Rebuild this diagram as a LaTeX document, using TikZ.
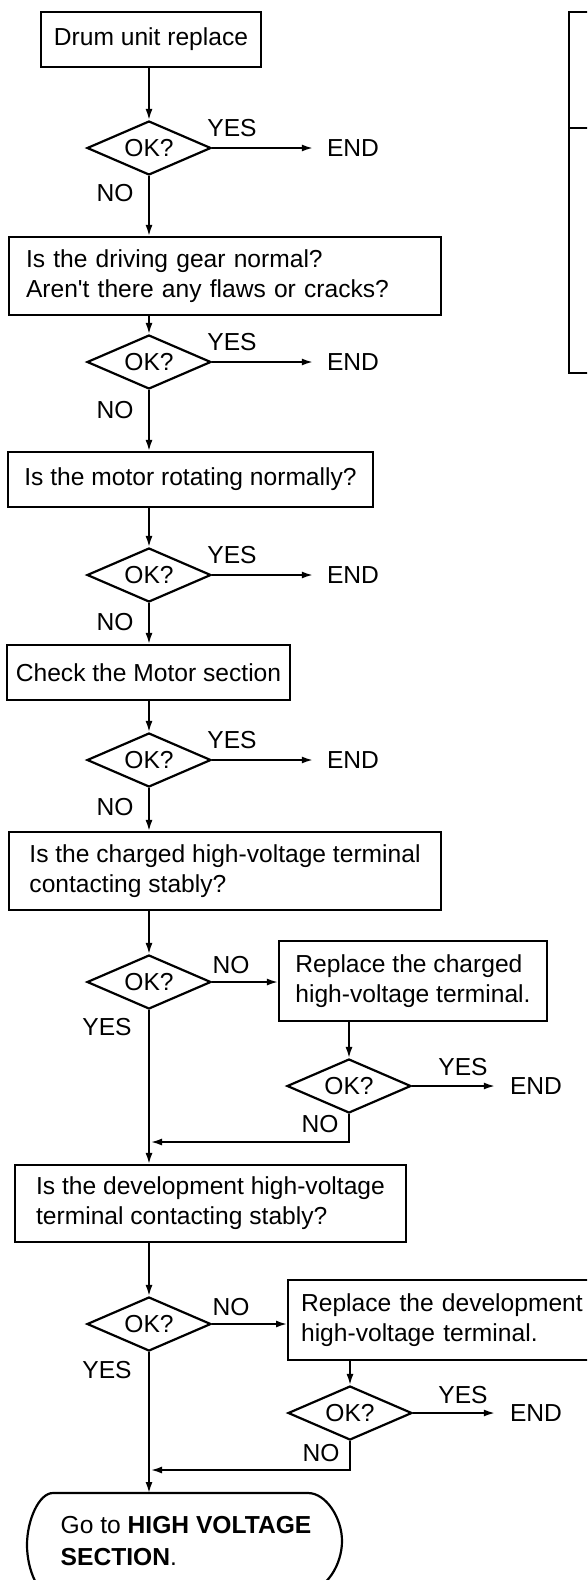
\documentclass[tikz,border=0pt]{standalone}
\usepackage{fontspec}
\setmainfont{Liberation Sans}[Ligatures=TeXOff]
\usetikzlibrary{shapes.geometric,arrows.meta}
\newcommand{\fcfont}{\fontsize{24.6}{30}\selectfont}

\begin{document}
\begin{tikzpicture}[x=1pt,y=-1pt,
    box/.style={draw,line width=2.2pt,rectangle,inner sep=0pt,align=left,font=\fcfont},
    ok/.style={draw,line width=2.2pt,diamond,aspect=2.3,inner sep=0pt,minimum width=124pt,minimum height=54pt,font=\fcfont},
    lbl/.style={inner sep=0pt,font=\fcfont},
    fin/.style={inner sep=0pt,inner xsep=14pt,font=\fcfont},
    arr/.style={line width=1.7pt,-{Latex[length=11pt,width=7pt]}}]
      \useasboundingbox (0,0) rectangle (587,1580);
      \clip (0,0) rectangle (587,1580);
      % first checks
      \node[box,align=center,minimum width=220pt,minimum height=55pt] (b1) at (151,39.5) {Drum unit replace};
      \node[ok] (d1) at (149,148) {OK?};
      \node[lbl] (y1) at (232,128) {YES};
      \node[fin] (e1) at (353,148) {END};
      \node[lbl] (n1) at (115,193) {NO};
      \node[box,text width=398pt,inner xsep=17pt,minimum height=78pt] (b2) at (225,276) {Is the driving gear normal?\\Aren't there any flaws or cracks?};
      \node[ok] (d2) at (149,362) {OK?};
      \node[lbl] (y2) at (232,342) {YES};
      \node[fin] (e2) at (353,362) {END};
      \node[lbl] (n2) at (115,410) {NO};
      \node[box,minimum width=365pt,minimum height=55pt] (b3) at (190.5,479.5) {Is the motor rotating normally?};
      \node[ok] (d3) at (149,575) {OK?};
      \node[lbl] (y3) at (232,555) {YES};
      \node[fin] (e3) at (353,575) {END};
      \node[lbl] (n3) at (115,622) {NO};
      \node[box,minimum width=283pt,minimum height=55pt] (b4) at (148.5,672.5) {Check the Motor section};
      \node[ok] (d4) at (149,760) {OK?};
      \node[lbl] (y4) at (232,740) {YES};
      \node[fin] (e4) at (353,760) {END};
      \node[lbl] (n4) at (115,807) {NO};
      % charged terminal
      \node[box,minimum width=432pt,minimum height=78pt] (b5) at (225,871) {Is the charged high-voltage terminal\\contacting stably?};
      \node[ok] (d5) at (149,982) {OK?};
      \node[lbl] (n5) at (231,965) {NO};
      \node[lbl] (y5) at (107,1027) {YES};
      \node[box,minimum width=268pt,minimum height=80pt] (b6) at (413,981) {Replace the charged\\high-voltage terminal.};
      \node[ok] (d6) at (349,1086) {OK?};
      \node[lbl] (y6) at (463,1067) {YES};
      \node[fin,inner xsep=15pt] (e6) at (536,1086) {END};
      \node[lbl] (n6) at (320,1124) {NO};
      \coordinate (m1) at (151,1142);
      % development terminal
      \node[box,minimum width=391pt,minimum height=77pt] (b7) at (210.5,1203.5) {Is the development high-voltage\\terminal contacting stably?};
      \node[ok] (d7) at (149,1324) {OK?};
      \node[lbl] (n7) at (231,1307) {NO};
      \node[lbl] (y7) at (107,1370) {YES};
      \node[box,anchor=west,text width=287pt,inner xsep=13pt,minimum height=80pt] (b8) at (287,1320) {Replace the development\\high-voltage terminal.};
      \node[ok] (d8) at (350,1413) {OK?};
      \node[lbl] (y8) at (463,1395) {YES};
      \node[fin,inner xsep=15pt] (e8) at (536,1413) {END};
      \node[lbl] (n8) at (321,1453) {NO};
      \coordinate (m2) at (151,1470);
      \coordinate (tt) at (149,1493);
      \node[lbl,align=left,font=\fontsize{24.6}{32}\selectfont] (t) at (186,1541) {Go to \textbf{HIGH VOLTAGE}\\\textbf{SECTION}.};
      \draw[line width=2.2pt] (53,1597) .. controls (39,1597) and (27,1570) .. (27,1545) .. controls (27,1520) and (39,1493) .. (53,1493)
        -- (308,1493) .. controls (326,1493) and (342,1518) .. (342,1541) .. controls (342,1565) and (326,1590) .. (308,1590);
      % table at the edge
      \draw[line width=2.2pt] (620,12) -- (569,12) -- (569,373) -- (620,373);
      \draw[line width=2.2pt] (569,128) -- (620,128);
      % connectors
      \draw[arr] (b1.south -| d1) -- (d1.north);
      \draw[arr] (d1.east) -- (e1.west);
      \draw[arr] (d1.south) -- (b2.north -| d1);
      \draw[arr] (b2.south -| d2) -- (d2.north);
      \draw[arr] (d2.east) -- (e2.west);
      \draw[arr] (d2.south) -- (b3.north -| d2);
      \draw[arr] (b3.south -| d3) -- (d3.north);
      \draw[arr] (d3.east) -- (e3.west);
      \draw[arr] (d3.south) -- (b4.north -| d3);
      \draw[arr] (b4.south -| d4) -- (d4.north);
      \draw[arr] (d4.east) -- (e4.west);
      \draw[arr] (d4.south) -- (b5.north -| d4);
      \draw[arr] (b5.south -| d5) -- (d5.north);
      \draw[arr] (d5.east) -- (d5.east -| b6.west);
      \draw[arr] (b6.south -| d6) -- (d6.north);
      \draw[arr] (d6.east) -- (e6.west);
      \draw[arr] (d6.south) |- (m1);
      \draw[arr] (d5.south) -- (b7.north -| d5);
      \draw[arr] (b7.south -| d7) -- (d7.north);
      \draw[arr] (d7.east) -- (d7.east -| b8.west);
      \draw[arr] (b8.south -| d8) -- (d8.north);
      \draw[arr] (d8.east) -- (e8.west);
      \draw[arr] (d8.south) |- (m2);
      \draw[arr] (d7.south) -- (tt);
\end{tikzpicture}
\end{document}
